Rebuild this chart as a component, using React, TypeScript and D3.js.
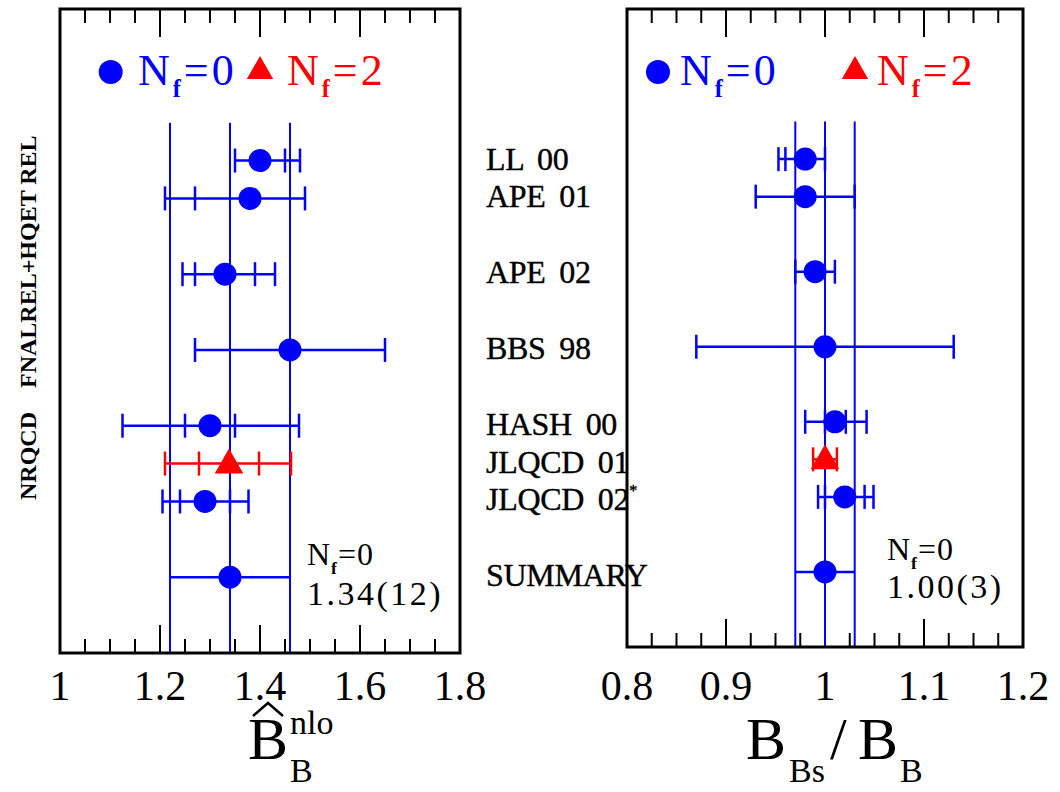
import React from "react";
import * as d3 from "d3";

// ---------- data ----------
const studies = ["LL 00", "APE 01", "APE 02", "BBS 98", "HASH 00", "JLQCD 01", "JLQCD 02", "SUMMARY"];
const rowPos = [4, 5, 7, 9, 11, 12, 13, 15];
const nfFlavours = [0, 0, 0, 0, 0, 2, 0, 0];

// left panel: B_B hat nlo
const bbValue = [1.40, 1.38, 1.33, 1.46, 1.30, 1.338, 1.29, 1.34];
const bbStatLo = [1.35, 1.27, 1.27, 1.27, 1.25, 1.278, 1.24, 1.22];
const bbStatHi = [1.45, 1.49, 1.39, 1.65, 1.35, 1.398, 1.34, 1.46];
const bbTotLo = [1.35, 1.21, 1.245, 1.27, 1.125, 1.21, 1.205, 1.22];
const bbTotHi = [1.48, 1.49, 1.43, 1.65, 1.478, 1.462, 1.377, 1.46];
const bbBand = [1.22, 1.34, 1.46];
const bbTicks = [1, 1.2, 1.4, 1.6, 1.8];
const bbSummaryText = "1.34(12)";

// right panel: B_Bs / B_B
const ratioValue = [0.98, 0.98, 0.99, 1.00, 1.01, 1.00, 1.02, 1.00];
const ratioStatLo = [0.96, 0.93, 0.97, 0.87, 1.00, 0.988, 1.00, 0.97];
const ratioStatHi = [1.00, 1.03, 1.01, 1.13, 1.021, 1.012, 1.04, 1.03];
const ratioTotLo = [0.953, 0.93, 0.97, 0.87, 0.98, 0.988, 0.993, 0.97];
const ratioTotHi = [1.00, 1.03, 1.01, 1.13, 1.042, 1.012, 1.049, 1.03];
const ratioBand = [0.97, 1.00, 1.03];
const ratioTicks = [0.8, 0.9, 1, 1.1, 1.2];
const ratioSummaryText = "1.00(3)";

const BLUE = "#0000ff";
const RED = "#ff0000";
const SERIF = "'Liberation Serif', 'Times New Roman', serif";

const rowMax = 17;
const bandTop = 3;

type PanelProps = {
  x: d3.ScaleLinear<number, number>;
  y: d3.ScaleLinear<number, number>;
  value: number[];
  statLo: number[];
  statHi: number[];
  totLo: number[];
  totHi: number[];
  band: number[];
  ticks: number[];
  minorStep: number;
  summary: string;
  legend: { circle: number; t0: number; tri: number; t2: number };
  note: { x: number; y1: number; y2: number };
};

function NfLabel({ x, y, value, color, size, spacing }: any) {
  return (
    <text x={x} y={y} fill={color} fontFamily={SERIF} fontSize={size} letterSpacing={spacing}>
      <tspan>N</tspan>
      <tspan dy={size * 0.28} fontSize={size * 0.55} fontWeight="bold">f</tspan>
      <tspan dy={-size * 0.28}>={value}</tspan>
    </text>
  );
}

function Panel(p: PanelProps) {
  const [x0, x1] = p.x.range();
  const [y0, y1] = p.y.range();
  const d0 = p.x.domain()[0];
  const d1 = p.x.domain()[1];
  const nMinor = Math.round((d1 - d0) / p.minorStep);
  const minor = d3.range(1, nMinor).map((i) => d0 + i * p.minorStep);
  const majorStep = p.ticks[1] - p.ticks[0];
  const isMajor = (v: number) => Math.abs((v - d0) / majorStep - Math.round((v - d0) / majorStep)) < 1e-6;
  const capH = 12;
  const triPath = (s: number) => `M0,${-s * 0.58}L${s * 0.55},${s * 0.38}L${-s * 0.55},${s * 0.38}Z`;
  return (
    <g>
      {/* ticks */}
      {minor.map((v, i) => {
        const len = isMajor(v) ? 28 : 14;
        const xx = p.x(v);
        return (
          <g key={"t" + i} stroke="#000" strokeWidth={2}>
            <line x1={xx} x2={xx} y1={y0} y2={y0 + len} />
            <line x1={xx} x2={xx} y1={y1} y2={y1 - len} />
          </g>
        );
      })}
      {/* band lines */}
      {p.band.map((v, i) => (
        <line key={"b" + i} x1={p.x(v)} x2={p.x(v)} y1={p.y(bandTop)} y2={y1} stroke={BLUE} strokeWidth={2} />
      ))}
      {/* error bars */}
      {p.value.map((v, i) => {
        const col = nfFlavours[i] === 2 ? RED : BLUE;
        const yy = p.y(rowPos[i]);
        const isSummary = i === p.value.length - 1;
        const caps = isSummary ? [] : Array.from(new Set([p.statLo[i], p.statHi[i], p.totLo[i], p.totHi[i]]));
        return (
          <g key={"e" + i} stroke={col} strokeWidth={2.5}>
            <line x1={p.x(p.totLo[i])} x2={p.x(p.totHi[i])} y1={yy} y2={yy} />
            {caps.map((c, j) => (
              <line key={j} x1={p.x(c)} x2={p.x(c)} y1={yy - capH} y2={yy + capH} />
            ))}
          </g>
        );
      })}
      {/* points */}
      {p.value.map((v, i) => {
        const yy = p.y(rowPos[i]);
        return nfFlavours[i] === 2 ? (
          <path key={"p" + i} d={triPath(26)} transform={`translate(${p.x(v)},${yy})`} fill={RED} />
        ) : (
          <circle key={"p" + i} cx={p.x(v)} cy={yy} r={11.5} fill={BLUE} />
        );
      })}
      {/* frame */}
      <rect x={x0} y={y0} width={x1 - x0} height={y1 - y0} fill="none" stroke="#000" strokeWidth={3} />
      {/* tick labels */}
      {p.ticks.map((v, i) => (
        <text key={"l" + i} x={p.x(v)} y={700} textAnchor="middle" fontFamily={SERIF} fontSize={42} fill="#000">
          {String(+v.toFixed(1))}
        </text>
      ))}
      {/* legend */}
      <circle cx={p.legend.circle} cy={72} r={12} fill={BLUE} />
      <NfLabel x={p.legend.t0} y={85} value={0} color={BLUE} size={44} spacing={3} />
      <path d={triPath(24)} transform={`translate(${p.legend.tri},${70})`} fill={RED} />
      <NfLabel x={p.legend.t2} y={85} value={2} color={RED} size={44} spacing={3} />
      {/* summary note */}
      <NfLabel x={p.note.x} y={p.note.y1} value={0} color="#000" size={32} spacing={1} />
      <text x={p.note.x} y={p.note.y2} fontFamily={SERIF} fontSize={34} letterSpacing={2.5} fill="#000">
        {p.summary}
      </text>
    </g>
  );
}

export default function App() {
  const xL = d3.scaleLinear().domain([1, 1.8]).range([60, 460]);
  const xR = d3.scaleLinear().domain([0.8, 1.2]).range([627, 1023]);
  const yL = d3.scaleLinear().domain([0, rowMax]).range([9, 653]);
  const yR = d3.scaleLinear().domain([0, rowMax]).range([9, 647]);

  return (
    <svg width={1060} height={792} style={{ position: "absolute", left: 0, top: 0, background: "#fff" }}>
      <rect x={0} y={0} width={1060} height={792} fill="#fff" />
      <Panel
        x={xL} y={yL} value={bbValue} statLo={bbStatLo} statHi={bbStatHi} totLo={bbTotLo} totHi={bbTotHi}
        band={bbBand} ticks={bbTicks} minorStep={0.05} summary={bbSummaryText}
        legend={{ circle: 110.7, t0: 138, tri: 260, t2: 287 }}
        note={{ x: 307, y1: 565, y2: 605 }}
      />
      <Panel
        x={xR} y={yR} value={ratioValue} statLo={ratioStatLo} statHi={ratioStatHi} totLo={ratioTotLo} totHi={ratioTotHi}
        band={ratioBand} ticks={ratioTicks} minorStep={0.025} summary={ratioSummaryText}
        legend={{ circle: 658, t0: 680, tri: 855, t2: 877 }}
        note={{ x: 887, y1: 560, y2: 598 }}
      />
      {/* study labels */}
      {studies.map((s, i) => (
        <text key={s} x={486} y={yL(rowPos[i]) + 9} fontFamily={SERIF} fontSize={32} letterSpacing={-0.3}
          wordSpacing={6} fill="#000" stroke="#000" strokeWidth={0.4}>
          {s}
          {s === "JLQCD 02" ? <tspan dy={-14} fontSize={16}>*</tspan> : null}
        </text>
      ))}
      {/* vertical method labels */}
      <text transform="translate(36,500) rotate(-90)" fontFamily={SERIF} fontSize={24} fontWeight="bold" fill="#000">
        NRQCD
      </text>
      <text transform="translate(36,388) rotate(-90)" fontFamily={SERIF} fontSize={24} fontWeight="bold" fill="#000">
        FNALREL+HQET REL
      </text>
      {/* axis titles */}
      <g fill="#000" fontFamily={SERIF}>
        <text x={248} y={759} fontSize={60}>B</text>
        <path d="M253,716 L268,703 L283,716" fill="none" stroke="#000" strokeWidth={2.5} />
        <text x={290} y={734} fontSize={34}>nlo</text>
        <text x={290} y={782} fontSize={34}>B</text>

        <text x={746} y={759} fontSize={60}>B</text>
        <text x={789} y={782} fontSize={34}>Bs</text>
        <text x={830} y={759} fontSize={60}>/</text>
        <text x={858} y={759} fontSize={60}>B</text>
        <text x={900} y={782} fontSize={34}>B</text>
      </g>
    </svg>
  );
}
